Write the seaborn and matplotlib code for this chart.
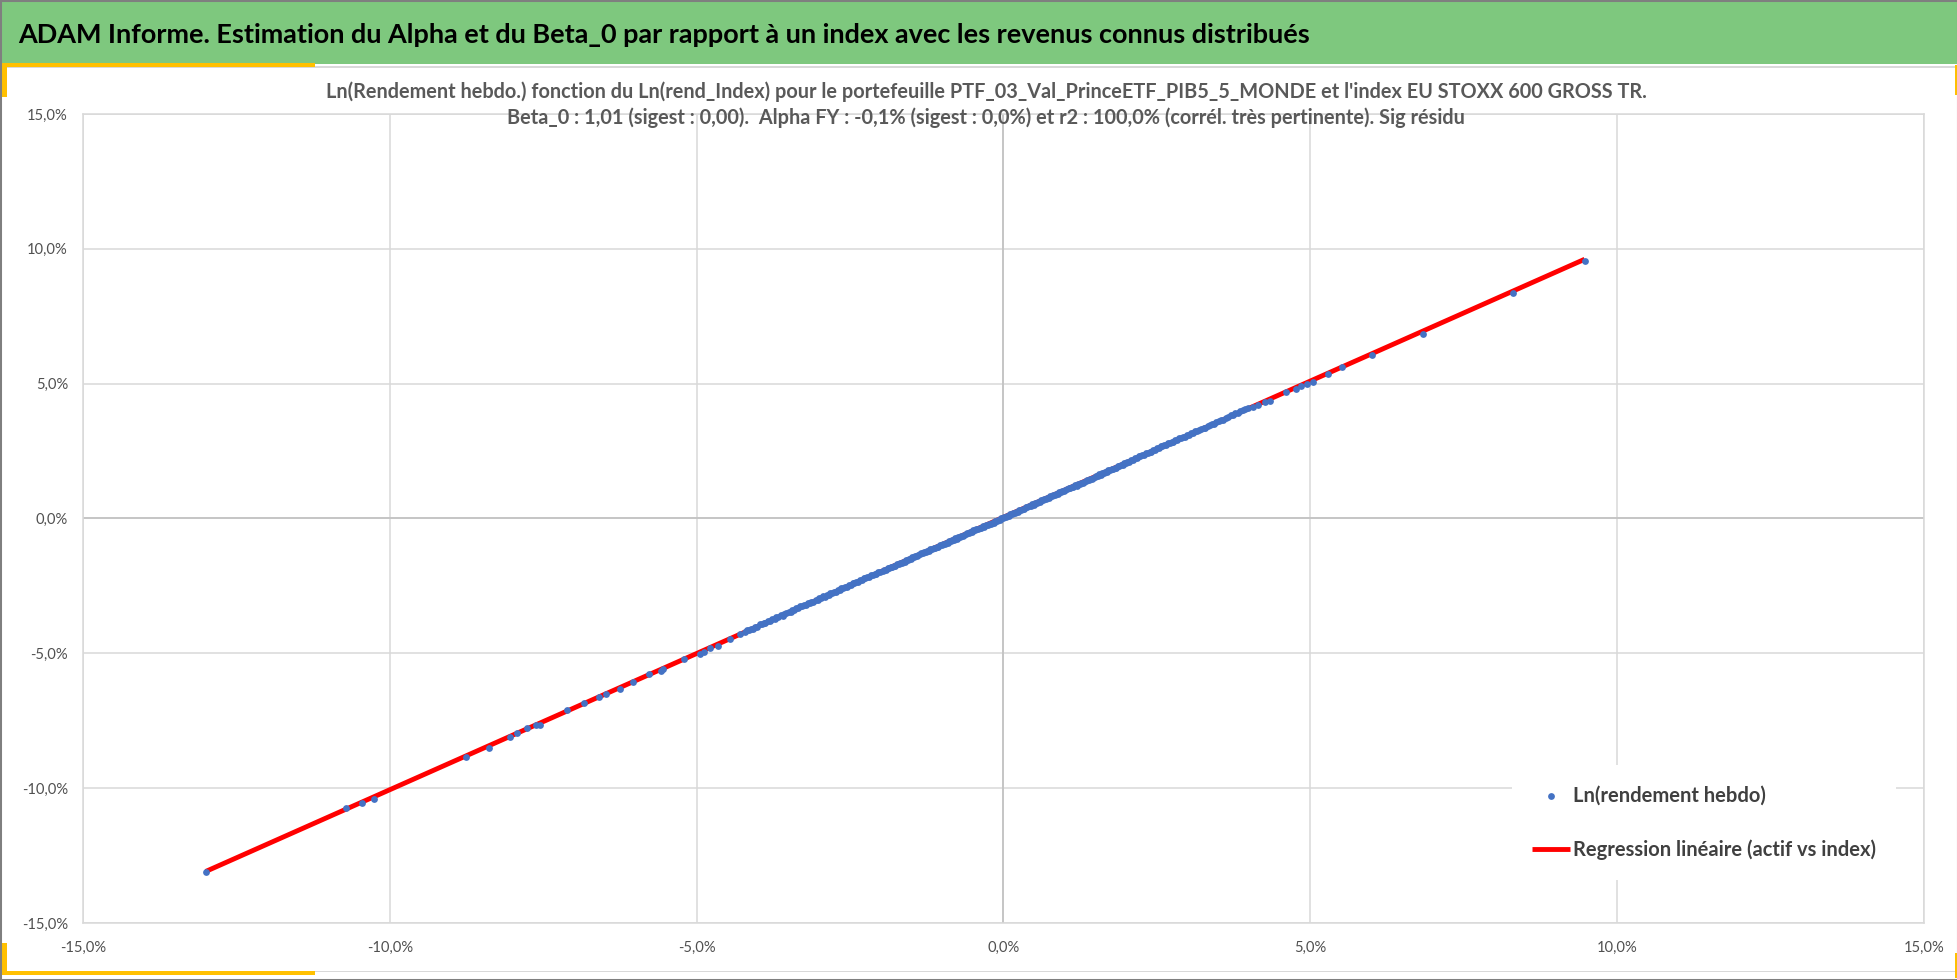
import matplotlib
matplotlib.use('Agg')
import matplotlib.pyplot as plt
import seaborn as sns
import pandas as pd
from matplotlib.patches import Rectangle
from matplotlib.ticker import FuncFormatter

# ---------------- data (weekly log returns, in %) ----------------
low_tail_x = [-13.00, -10.71, -10.46, -10.25, -8.76, -8.39, -8.04, -7.92, -7.76, -7.61,
              -7.55, -7.12, -6.83, -6.59, -6.48, -6.25, -6.04, -5.78, -5.58, -5.55,
              -5.20, -4.94, -4.88, -4.78, -4.65, -4.45, -4.30]
low_tail_y = [-13.12, -10.73, -10.54, -10.39, -8.86, -8.51, -8.12, -7.97, -7.78, -7.65,
              -7.65, -7.11, -6.84, -6.62, -6.52, -6.33, -6.06, -5.78, -5.66, -5.57,
              -5.22, -5.01, -4.94, -4.79, -4.71, -4.48, -4.29]

neg_band_x = [-4.22, -4.15, -4.09, -4.01, -3.94, -3.88, -3.80, -3.73, -3.67, -3.60,
              -3.54, -3.47, -3.41, -3.35, -3.28, -3.22, -3.16, -3.10, -3.03, -2.97,
              -2.91, -2.85, -2.79, -2.73, -2.67, -2.61, -2.55, -2.49, -2.43, -2.37,
              -2.31, -2.25, -2.19, -2.13, -2.07, -2.01]
neg_band_y = [-4.21, -4.14, -4.08, -4.01, -3.92, -3.87, -3.80, -3.71, -3.66, -3.60,
              -3.52, -3.46, -3.40, -3.32, -3.26, -3.21, -3.14, -3.08, -3.02, -2.95,
              -2.90, -2.83, -2.78, -2.71, -2.66, -2.59, -2.54, -2.48, -2.40, -2.35,
              -2.29, -2.22, -2.17, -2.11, -2.04, -1.99]

neg_band2_x = [-4.18, -4.12, -4.05, -3.97, -3.91, -3.84, -3.77, -3.70, -3.63, -3.57,
               -3.50, -3.44, -3.38, -3.31, -3.25, -3.19, -3.13, -3.06, -3.00, -2.94,
               -2.88, -2.82, -2.76, -2.70, -2.64, -2.58, -2.52, -2.46, -2.40, -2.34,
               -2.28, -2.22, -2.16, -2.10, -2.04]
neg_band2_y = [-4.14, -4.08, -4.01, -3.93, -3.87, -3.80, -3.73, -3.66, -3.59, -3.53,
               -3.46, -3.39, -3.33, -3.26, -3.20, -3.14, -3.08, -3.01, -2.95, -2.89,
               -2.83, -2.77, -2.71, -2.65, -2.59, -2.53, -2.47, -2.40, -2.34, -2.28,
               -2.22, -2.16, -2.10, -2.04, -1.98]

core_x = [-1.96, -1.91, -1.86, -1.81, -1.76, -1.71, -1.66, -1.61, -1.56, -1.51,
          -1.46, -1.41, -1.36, -1.31, -1.26, -1.21, -1.16, -1.11, -1.06, -1.01,
          -0.96, -0.91, -0.86, -0.81, -0.76, -0.71, -0.66, -0.61, -0.56, -0.51,
          -0.46, -0.41, -0.36, -0.31, -0.26, -0.21, -0.16, -0.11, -0.06, -0.01,
          0.04, 0.09, 0.14, 0.19, 0.24, 0.29, 0.34, 0.39, 0.44, 0.49,
          0.54, 0.59, 0.64, 0.69, 0.74, 0.79, 0.84, 0.89, 0.94, 0.99,
          1.04, 1.09, 1.14, 1.19, 1.24, 1.29, 1.34, 1.39, 1.44, 1.49,
          1.54, 1.59, 1.64, 1.69, 1.74, 1.79, 1.84, 1.89, 1.94, 1.99]
core_y = [-1.95, -1.90, -1.84, -1.80, -1.75, -1.69, -1.65, -1.60, -1.54, -1.50,
          -1.44, -1.39, -1.33, -1.29, -1.24, -1.19, -1.13, -1.09, -1.04, -0.99,
          -0.94, -0.89, -0.85, -0.79, -0.75, -0.69, -0.65, -0.59, -0.55, -0.50,
          -0.44, -0.39, -0.34, -0.30, -0.24, -0.20, -0.15, -0.10, -0.05, 0.00,
          0.05, 0.10, 0.15, 0.20, 0.25, 0.31, 0.35, 0.41, 0.45, 0.51,
          0.57, 0.61, 0.67, 0.72, 0.77, 0.82, 0.87, 0.92, 0.98, 1.02,
          1.08, 1.12, 1.18, 1.22, 1.28, 1.32, 1.38, 1.43, 1.47, 1.53,
          1.59, 1.63, 1.69, 1.74, 1.79, 1.84, 1.89, 1.94, 1.99, 2.04]

core2_x = [-1.94, -1.89, -1.84, -1.79, -1.74, -1.69, -1.64, -1.59, -1.54, -1.49,
           -1.44, -1.39, -1.34, -1.29, -1.24, -1.19, -1.14, -1.09, -1.04, -0.99,
           -0.94, -0.89, -0.84, -0.79, -0.74, -0.69, -0.64, -0.59, -0.54, -0.49,
           -0.44, -0.39, -0.34, -0.29, -0.24, -0.19, -0.14, -0.09, -0.04, 0.01,
           0.06, 0.11, 0.16, 0.21, 0.26, 0.31, 0.36, 0.41, 0.46, 0.51,
           0.56, 0.61, 0.66, 0.71, 0.76, 0.81, 0.86, 0.91, 0.96, 1.01,
           1.06, 1.11, 1.16, 1.21, 1.26, 1.31, 1.36, 1.41, 1.46, 1.51,
           1.56, 1.61, 1.66, 1.71, 1.76, 1.81, 1.86, 1.91, 1.96, 2.01]
core2_y = [-1.90, -1.85, -1.80, -1.75, -1.70, -1.65, -1.60, -1.55, -1.50, -1.44,
           -1.39, -1.34, -1.29, -1.24, -1.19, -1.14, -1.09, -1.04, -0.99, -0.94,
           -0.89, -0.84, -0.80, -0.74, -0.70, -0.64, -0.60, -0.54, -0.50, -0.44,
           -0.39, -0.34, -0.29, -0.25, -0.19, -0.15, -0.10, -0.05, 0.00, 0.05,
           0.10, 0.15, 0.20, 0.25, 0.31, 0.35, 0.41, 0.45, 0.52, 0.57,
           0.62, 0.67, 0.72, 0.77, 0.82, 0.87, 0.92, 0.97, 1.03, 1.07,
           1.13, 1.17, 1.23, 1.27, 1.33, 1.37, 1.43, 1.48, 1.52, 1.58,
           1.64, 1.68, 1.74, 1.79, 1.84, 1.89, 1.94, 1.99, 2.04, 2.09]

pos_band_x = [2.05, 2.11, 2.17, 2.23, 2.29, 2.35, 2.41, 2.47, 2.53, 2.59,
              2.65, 2.71, 2.77, 2.83, 2.89, 2.95, 3.02, 3.08, 3.15, 3.22,
              3.29, 3.36, 3.43, 3.51, 3.58, 3.66, 3.74, 3.82, 3.90, 3.98]
pos_band_y = [2.11, 2.18, 2.23, 2.30, 2.35, 2.42, 2.47, 2.55, 2.60, 2.67,
              2.72, 2.79, 2.85, 2.90, 2.97, 3.03, 3.09, 3.16, 3.23, 3.31,
              3.37, 3.45, 3.51, 3.61, 3.67, 3.77, 3.84, 3.92, 4.01, 4.08]

pos_band2_x = [2.08, 2.14, 2.20, 2.26, 2.32, 2.38, 2.44, 2.50, 2.56, 2.62,
               2.68, 2.74, 2.80, 2.86, 2.92, 2.99, 3.05, 3.12, 3.19, 3.26,
               3.33, 3.40, 3.47, 3.55, 3.62, 3.70, 3.78, 3.86, 3.94]
pos_band2_y = [2.18, 2.24, 2.30, 2.36, 2.42, 2.48, 2.54, 2.61, 2.67, 2.73,
               2.79, 2.85, 2.91, 2.97, 3.03, 3.10, 3.16, 3.23, 3.30, 3.37,
               3.44, 3.51, 3.58, 3.67, 3.74, 3.82, 3.90, 3.98, 4.06]

high_tail_x = [4.07, 4.15, 4.26, 4.35, 4.60, 4.76, 4.84, 4.95, 5.04, 5.29,
               5.52, 6.00, 6.83, 8.30, 9.47]
high_tail_y = [4.14, 4.21, 4.31, 4.37, 4.69, 4.82, 4.91, 4.99, 5.08, 5.36,
               5.60, 6.08, 6.86, 8.36, 9.56]

x_ticks = [-15, -10, -5, 0, 5, 10, 15]
y_ticks = [-15, -10, -5, 0, 5, 10, 15]

title_main = "ADAM Informe. Estimation du Alpha et du Beta_0 par rapport à un index avec les revenus connus distribués"
sub_line1 = "Ln(Rendement hebdo.) fonction du Ln(rend_Index) pour le portefeuille PTF_03_Val_PrinceETF_PIB5_5_MONDE et l'index EU STOXX 600 GROSS TR."
sub_line2 = "Beta_0 : 1,01 (sigest : 0,00).  Alpha FY : -0,1% (sigest : 0,0%) et r2 : 100,0% (corrél. très pertinente). Sig résidu"
label_points = "Ln(rendement hebdo)"
label_line = "Regression linéaire (actif vs index)"

df = pd.DataFrame({
    "index": (low_tail_x + neg_band_x + neg_band2_x + core_x + core2_x
              + pos_band_x + pos_band2_x + high_tail_x),
    "actif": (low_tail_y + neg_band_y + neg_band2_y + core_y + core2_y
              + pos_band_y + pos_band2_y + high_tail_y),
})

# ---------------- style ----------------
sns.set_theme(style="white")
plt.rcParams['font.family'] = ['Lato', 'DejaVu Sans']

W, H = 1958, 980
fig = plt.figure(figsize=(W / 100, H / 100), dpi=100)
fig.patch.set_facecolor('white')
renderer = fig.canvas.get_renderer()


def fx(px):
    return px / W


def fy(py):
    return 1 - py / H


def measure(text, **kw):
    t = fig.text(0, 0, text, **kw)
    bb = t.get_window_extent(renderer)
    t.remove()
    return bb.width, bb.height


def fit_size(text, target_w, **kw):
    w, _ = measure(text, fontsize=20, **kw)
    return 20 * target_w / w


# ---------------- frame decorations ----------------
GREEN = '#7EC87E'
YELLOW = '#FFC000'
fig.add_artist(Rectangle((0, fy(64)), 1, 64 / H, transform=fig.transFigure,
                         facecolor=GREEN, edgecolor='none', zorder=0))
for yy in (67, 971):
    fig.add_artist(Rectangle((0, fy(yy + 1)), 1, 1.5 / H, transform=fig.transFigure,
                             facecolor='#d9d9d9', edgecolor='none', zorder=1))


def rect_px(x0, y0, x1, y1, color, z=2):
    fig.add_artist(Rectangle((fx(x0), fy(y1)), (x1 - x0) / W, (y1 - y0) / H,
                             transform=fig.transFigure, facecolor=color,
                             edgecolor='none', zorder=z))


rect_px(0, 63, 315, 67, YELLOW)
rect_px(2, 63, 7, 97, YELLOW)
rect_px(0, 971, 315, 975, YELLOW)
rect_px(2, 943, 7, 975, YELLOW)
rect_px(1955, 65, 1958, 95, YELLOW)
rect_px(1955, 953, 1958, 978, YELLOW)
fig.add_artist(Rectangle((0, 0), 1, 1, transform=fig.transFigure, facecolor='none',
                         edgecolor='#7f7f7f', lw=2.2, zorder=5))

# ---------------- titles ----------------
fs_title = fit_size(title_main, 1294, fontweight='bold')
fig.text(fx(18), fy(43), title_main, fontsize=fs_title, fontweight='bold',
         color='black', ha='left', va='baseline')
fs_s1 = fit_size(sub_line1, 1307, fontweight='bold')
fs_s2 = fit_size(sub_line2, 960, fontweight='bold')
fs_sub = (fs_s1 + fs_s2) / 2
fig.text(fx(986), fy(98), sub_line1, fontsize=fs_sub, fontweight='bold',
         color='#595959', ha='center', va='baseline')
fig.text(fx(986), fy(124), sub_line2, fontsize=fs_sub, fontweight='bold',
         color='#595959', ha='center', va='baseline')

# ---------------- axes ----------------
left, right, top, bottom = 83, 1924, 114, 923
ax = fig.add_axes([fx(left), fy(bottom), (right - left) / W, (bottom - top) / H])
ax.set_facecolor('white')

sns.regplot(data=df, x="index", y="actif", ax=ax, scatter=False, ci=None,
            color='#FF0000', line_kws={'lw': 3.5, 'zorder': 3, 'solid_capstyle': 'butt'},
            label=label_line)
sns.scatterplot(data=df, x="index", y="actif", ax=ax, color='#4472C4', s=24,
                linewidth=0, zorder=4, label=label_points)

ax.set_xlim(-15, 15)
ax.set_ylim(-15, 15)
ax.set_xticks(x_ticks)
ax.set_yticks(y_ticks)
fmt = FuncFormatter(lambda v, p: f"{v:.1f}%".replace('.', ','))
ax.xaxis.set_major_formatter(fmt)
ax.yaxis.set_major_formatter(fmt)
ax.set_xlabel('')
ax.set_ylabel('')

ax.grid(True, color='#d9d9d9', lw=1.1, zorder=0)
ax.set_axisbelow(True)
for s in ax.spines.values():
    s.set_color('#d9d9d9')
    s.set_linewidth(1.1)
ax.axhline(0, color='#bfbfbf', lw=1.1, zorder=1)
ax.axvline(0, color='#bfbfbf', lw=1.1, zorder=1)

fs_tick = fit_size('15,0%', 41)
_, h_tick = measure('-15,0%', fontsize=fs_tick)
ax.tick_params(axis='both', length=0, labelsize=fs_tick, labelcolor='#505050')
ax.tick_params(axis='y', pad=15 * 0.72)
ax.tick_params(axis='x', pad=max(1, (948 - bottom - h_tick / 2)) * 0.72)

# ---------------- legend ----------------
fs_leg = fit_size(label_line, 304, fontweight='bold')
fs_px = fs_leg * 100 / 72
_, h_leg = measure(label_points, fontsize=fs_leg, fontweight='bold')
handles, labels = ax.get_legend_handles_labels()
order = [labels.index(label_points), labels.index(label_line)]
leg = ax.legend([handles[i] for i in order], [labels[i] for i in order],
                loc='lower left', bbox_to_anchor=(fx(1512), fy(880)),
                bbox_transform=fig.transFigure, borderaxespad=0,
                frameon=True, facecolor='white', edgecolor='none', framealpha=1,
                fancybox=False, borderpad=20 / fs_px,
                handlelength=38 / fs_px, handletextpad=3 / fs_px,
                labelspacing=max(0.1, (54 - h_leg) / fs_px),
                prop={'size': fs_leg, 'weight': 'bold'})
for t in leg.get_texts():
    t.set_color('#404040')
leg.set_zorder(10)

fig.savefig('out.png', dpi=100, facecolor='white')
